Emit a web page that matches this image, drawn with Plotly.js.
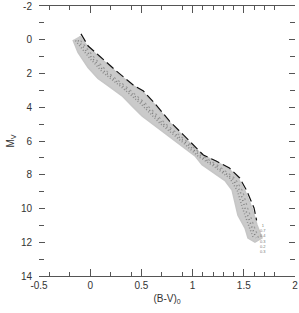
<!DOCTYPE html>
<html><head><meta charset="utf-8">
<script src="https://cdn.plot.ly/plotly-3.0.1.min.js"></script>
<style>html,body{margin:0;padding:0;background:#fff}</style>
</head><body><div id="chart" style="width:299px;height:313px"></div>
<script>
// Upper (red-side) edge of the observed star band
const upperBV = [-0.100,-0.031,0.076,0.242,0.408,0.506,0.633,0.760,0.896,0.994,1.092,1.219,1.346,1.443,1.512,1.580,1.629,1.678];
const upperMV = [-0.22,0.37,0.96,1.85,2.68,3.04,3.87,4.82,5.64,6.24,6.83,7.19,7.60,8.19,8.96,9.97,10.98,11.75];
// Lower (blue-side) edge of the observed star band
const lowerBV = [-0.168,-0.119,-0.021,0.076,0.174,0.311,0.408,0.506,0.633,0.760,0.896,1.023,1.092,1.189,1.316,1.385,1.414,1.443,1.512,1.541,1.609];
const lowerMV = [0.02,0.75,1.65,2.30,2.72,3.32,3.92,4.52,5.12,5.72,6.30,6.88,7.40,7.80,8.35,8.90,9.60,10.40,11.16,11.75,11.99];
// Dense core of the band
const coreBV = [-0.129,0.000,0.140,0.320,0.501,0.696,0.926,1.072,1.219,1.380,1.453,1.502,1.561,1.609];
const coreMV = [0.05,1.02,1.95,2.80,3.75,4.95,6.12,6.92,7.48,8.22,8.96,9.97,10.98,11.75];
// Dashed reference sequence
const seqBV = [-0.09,-0.02,0.09,0.255,0.42,0.52,0.645,0.775,0.91,1.005,1.105,1.23,1.36,1.46,1.53,1.60,1.625];
const seqMV = [-0.35,0.37,0.96,1.85,2.68,3.04,3.87,4.82,5.64,6.24,6.83,7.19,7.60,8.19,8.96,9.97,10.70];
// Mass labels
const massLabels = ["1","0.7","0.4","0.3","0.2","0.3"];
const xTicks = [-0.5,0,0.5,1,1.5,2];
const yTicks = [-2,0,2,4,6,8,10,12,14];

const bandX = upperBV.concat(lowerBV.slice().reverse());
const bandY = upperMV.concat(lowerMV.slice().reverse());

const traces = [
  {x: bandX, y: bandY, type:'scatter', mode:'lines', fill:'toself', fillcolor:'#cacaca',
   line:{color:'#c6c6c6', width:1.5}, hoverinfo:'skip'},
  {x: coreBV.map(v=>v-0.015), y: coreMV, type:'scatter', mode:'lines', line:{color:'#8c8c8c', width:1.5, dash:'1px,2px'}, hoverinfo:'skip'},
  {x: coreBV.map(v=>v+0.01), y: coreMV, type:'scatter', mode:'lines', line:{color:'#7c7c7c', width:1.5, dash:'1px,3px'}, hoverinfo:'skip'},
  {x: coreBV.map(v=>v+0.035), y: coreMV, type:'scatter', mode:'lines', line:{color:'#9a9a9a', width:1.2, dash:'2px,3px'}, hoverinfo:'skip'},
  {x: seqBV, y: seqMV, type:'scatter', mode:'lines', line:{color:'#111', width:1.2, dash:'9px,4px'}, hoverinfo:'skip'}
];

const axFont = {family:'Liberation Sans, Arial, sans-serif', size:10, color:'#333'};
const layout = {
  width:299, height:313,
  margin:{l:39, r:4, t:6, b:37},
  paper_bgcolor:'#fff', plot_bgcolor:'#fff',
  showlegend:false,
  xaxis:{range:[-0.5,2], tickvals:xTicks, ticktext:xTicks.map(String), ticks:'inside', ticklen:7,
    tickcolor:'#555', showline:true, linecolor:'#555', linewidth:1, mirror:'ticks', showgrid:false, zeroline:false,
    tickfont:axFont,
    minor:{tickvals:[-0.4,-0.2,0.2,0.4,0.7,0.9,1.1,1.2,1.3,1.4,1.6,1.7,1.8], ticks:'inside', ticklen:4, tickcolor:'#555', showgrid:false},
    title:{text:'(B-V)<sub>0</sub>', font:axFont, standoff:4}},
  yaxis:{range:[14,-2], tickvals:yTicks, ticktext:yTicks.map(String), ticks:'inside', ticklen:6,
    tickcolor:'#555', showline:false, mirror:'ticks', showgrid:false, zeroline:false,
    tickfont:axFont, ticklabelstandoff:6,
    minor:{dtick:1, tick0:-1, ticks:'inside', ticklen:5, tickcolor:'#555', showgrid:false},
    title:{text:'M<sub>V</sub>', font:axFont, standoff:4}},
  annotations:[{x:1.69, y:10.75, xref:'x', yref:'y', text:massLabels.join('<br>'), showarrow:false,
    font:{family:'Liberation Sans, Arial, sans-serif', size:4, color:'#777'}, xanchor:'center', yanchor:'top'}]
};
Plotly.newPlot('chart', traces, layout, {staticPlot:true, displayModeBar:false});
</script></body></html>
